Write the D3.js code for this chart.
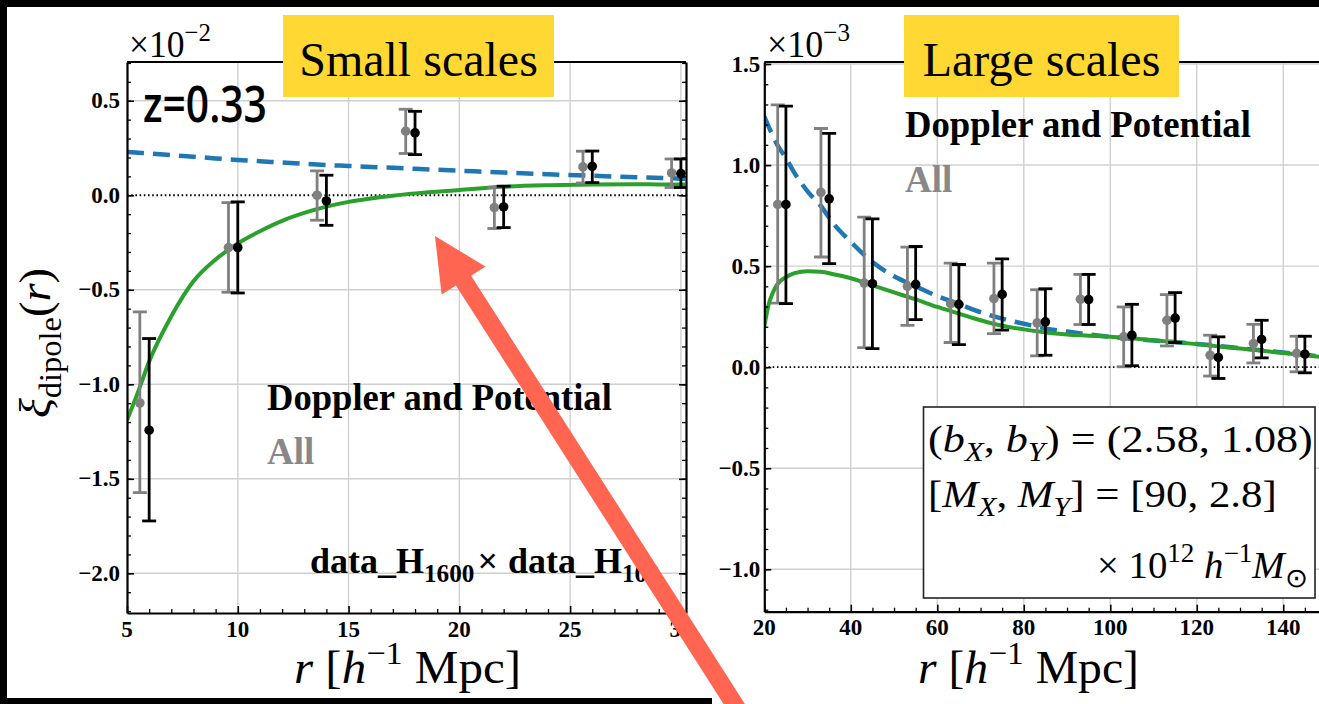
<!DOCTYPE html>
<html>
<head>
<meta charset="utf-8">
<script src="https://cdn.jsdelivr.net/npm/d3@7"></script>
<style>
  body { margin: 0; background: #fff; }
  svg { display: block; }
  text { font-family: "Liberation Serif", "Times New Roman", serif; }
</style>
</head>
<body>
<svg id="chart" width="1319" height="704"></svg>
<script>
// small scales panel, xi_dipole in units of 1e-2
const smallR = [6, 10, 14, 18, 22, 26, 30];
const smallDP = [-1.243, -0.277, -0.030, 0.330, -0.062, 0.153, 0.115];
const smallDPLo = [-1.723, -0.517, -0.159, 0.215, -0.171, 0.067, 0.041];
const smallDPHi = [-0.758, -0.035, 0.106, 0.444, 0.048, 0.234, 0.192];
const smallAll = [-1.099, -0.277, 0.000, 0.339, -0.065, 0.150, 0.118];
const smallAllLo = [-1.573, -0.513, -0.132, 0.221, -0.176, 0.065, 0.041];
const smallAllHi = [-0.617, -0.039, 0.129, 0.455, 0.041, 0.233, 0.192];
const smallModelR = [5, 5.5, 6, 7, 8, 9, 10, 11, 12, 13, 14, 15, 16, 17, 18, 20, 22, 24, 26, 28, 30, 30.2];
const smallGreen = [-1.19, -1.04, -0.88, -0.64, -0.455, -0.34, -0.255, -0.19, -0.135, -0.093, -0.06, -0.035, -0.017, -0.002, 0.01, 0.028, 0.045, 0.053, 0.057, 0.058, 0.057, 0.057];
const smallBlue = [0.229, 0.225, 0.221, 0.212, 0.204, 0.195, 0.187, 0.18, 0.173, 0.166, 0.16, 0.155, 0.15, 0.145, 0.14, 0.13, 0.12, 0.111, 0.103, 0.095, 0.088, 0.087];
const smallXTicks = [5, 10, 15, 20, 25, 30];
const smallYTicks = [-2, -1.5, -1, -0.5, 0, 0.5];

// large scales panel, xi_dipole in units of 1e-3
const largeR = [25, 35, 45, 55, 65, 75, 85, 95, 105, 115, 125, 135, 145];
const largeDP = [0.805, 0.833, 0.413, 0.410, 0.311, 0.360, 0.224, 0.334, 0.158, 0.243, 0.048, 0.137, 0.064];
const largeDPLo = [0.314, 0.512, 0.092, 0.235, 0.112, 0.183, 0.059, 0.211, 0.007, 0.122, -0.056, 0.046, -0.028];
const largeDPHi = [1.292, 1.157, 0.734, 0.597, 0.508, 0.536, 0.388, 0.459, 0.311, 0.369, 0.150, 0.232, 0.153];
const largeAll = [0.805, 0.865, 0.416, 0.400, 0.314, 0.339, 0.219, 0.336, 0.150, 0.232, 0.059, 0.117, 0.068];
const largeAllLo = [0.317, 0.545, 0.097, 0.207, 0.122, 0.166, 0.056, 0.211, 0.002, 0.105, -0.044, 0.021, -0.023];
const largeAllHi = [1.298, 1.181, 0.742, 0.594, 0.515, 0.515, 0.383, 0.459, 0.298, 0.359, 0.158, 0.212, 0.153];
const largeModelR = [20, 21, 22, 23, 25, 27, 30, 33, 36, 40, 45, 50, 55, 60, 65, 70, 75, 80, 85, 90, 95, 100, 110, 120, 130, 140, 150];
const largeGreen = [0.20, 0.31, 0.37, 0.41, 0.445, 0.465, 0.475, 0.472, 0.46, 0.44, 0.405, 0.37, 0.335, 0.298, 0.265, 0.232, 0.205, 0.187, 0.172, 0.162, 0.156, 0.15, 0.133, 0.114, 0.092, 0.07, 0.048];
const largeBlue = [1.24, 1.19, 1.145, 1.10, 1.035, 0.96, 0.87, 0.80, 0.71, 0.62, 0.52, 0.45, 0.40, 0.352, 0.312, 0.272, 0.24, 0.215, 0.192, 0.176, 0.162, 0.15, 0.132, 0.115, 0.094, 0.072, 0.05];
const largeXTicks = [20, 40, 60, 80, 100, 120, 140];
const largeYTicks = [-1, -0.5, 0, 0.5, 1, 1.5];

// arrow annotation, in small-scale panel data coords
const arrowTip = [18.9, -0.215];
const arrowTail = [33.0, -2.80];

const svg = d3.select('#chart');
const fmt1 = d3.format('.1f');

// mathtext-ish runs: sub/sup/italic
function runs(t, size, list) {
  let cur = 0;
  list.forEach(r => {
    const shift = r.sup ? -0.42 * size : r.sub ? 0.24 * size : 0;
    const ts = t.append('tspan').text(r.t).attr('dy', shift - cur);
    if (r.sup || r.sub) ts.attr('font-size', 0.7 * size);
    if (r.i) ts.attr('font-style', 'italic');
    if (r.dx) ts.attr('dx', r.dx);
    cur = shift;
  });
  return t;
}

// squeeze/stretch a text drawn at 0,0 to a target width
function fit(t, x, y, w, extra) {
  const b = t.node().getBBox();
  t.attr('transform', `translate(${x},${y})${extra || ''} scale(${w / b.width},1)`);
}

function panel(cfg) {
  const g = svg.append('g');
  const x = d3.scaleLinear().domain(cfg.xDomain).range([cfg.left, cfg.right]);
  const y = d3.scaleLinear().domain(cfg.yDomain).range([cfg.bottom, cfg.top]);

  svg.append('clipPath').attr('id', cfg.id)
    .append('rect')
    .attr('x', cfg.left).attr('y', cfg.top)
    .attr('width', cfg.right - cfg.left).attr('height', cfg.bottom - cfg.top);

  // grid
  g.append('g').selectAll('line')
    .data(cfg.xMajor.filter(d => d > cfg.xDomain[0]))
    .join('line')
    .attr('x1', d => x(d)).attr('x2', d => x(d))
    .attr('y1', cfg.top).attr('y2', cfg.bottom)
    .attr('stroke', '#d0d0d0').attr('stroke-width', 1.4);
  g.append('g').selectAll('line')
    .data(cfg.yMajor.filter(d => d !== 0))
    .join('line')
    .attr('y1', d => y(d)).attr('y2', d => y(d))
    .attr('x1', cfg.left).attr('x2', cfg.right)
    .attr('stroke', '#d0d0d0').attr('stroke-width', 1.4);

  const plot = g.append('g').attr('clip-path', `url(#${cfg.id})`);

  plot.append('line')
    .attr('x1', cfg.left).attr('x2', cfg.right)
    .attr('y1', y(0)).attr('y2', y(0))
    .attr('stroke', '#000').attr('stroke-width', 1.8)
    .attr('stroke-dasharray', '1.6,2.6');

  const line = d3.line().x(d => x(d[0])).y(d => y(d[1])).curve(d3.curveMonotoneX);
  plot.append('path')
    .attr('d', line(d3.zip(cfg.modelR, cfg.blue)))
    .attr('fill', 'none').attr('stroke', '#1f77b4').attr('stroke-width', 4.5)
    .attr('stroke-dasharray', '17,9');
  plot.append('path')
    .attr('d', line(d3.zip(cfg.modelR, cfg.green)))
    .attr('fill', 'none').attr('stroke', '#2ca02c').attr('stroke-width', 4);

  // error bars: grey "All" shifted left, black "Doppler and Potential" on top
  const series = [
    { dx: cfg.dodge, v: cfg.all, lo: cfg.allLo, hi: cfg.allHi, color: '#808080' },
    { dx: 0, v: cfg.dp, lo: cfg.dpLo, hi: cfg.dpHi, color: '#000' }
  ];
  series.forEach(s => {
    const pts = cfg.r.map((r, i) => ({ r: r + s.dx, v: s.v[i], lo: s.lo[i], hi: s.hi[i] }));
    const eg = plot.append('g').attr('stroke', s.color).attr('stroke-width', 2.8);
    eg.selectAll('line.bar').data(pts).join('line').attr('class', 'bar')
      .attr('x1', d => x(d.r)).attr('x2', d => x(d.r))
      .attr('y1', d => y(d.lo)).attr('y2', d => y(d.hi));
    eg.selectAll('line.lo').data(pts).join('line').attr('class', 'lo')
      .attr('x1', d => x(d.r) - 7).attr('x2', d => x(d.r) + 7)
      .attr('y1', d => y(d.lo)).attr('y2', d => y(d.lo));
    eg.selectAll('line.hi').data(pts).join('line').attr('class', 'hi')
      .attr('x1', d => x(d.r) - 7).attr('x2', d => x(d.r) + 7)
      .attr('y1', d => y(d.hi)).attr('y2', d => y(d.hi));
    plot.append('g').selectAll('circle').data(pts).join('circle')
      .attr('cx', d => x(d.r)).attr('cy', d => y(d.v)).attr('r', 4.8)
      .attr('fill', s.color);
  });

  // axes: inward ticks, labels drawn as own text nodes
  const spine = a => { a.select('.domain').attr('stroke-width', 2.2); a.selectAll('.tick line').attr('stroke-width', 1.6); a.selectAll('.tick text').remove(); };
  const minor = a => { a.select('.domain').remove(); a.selectAll('.tick line').attr('stroke-width', 1.3); a.selectAll('.tick text').remove(); };

  g.append('g').attr('transform', `translate(${cfg.left},0)`)
    .call(d3.axisLeft(y).tickValues(cfg.yMinor).tickSize(-4)).call(minor);
  g.append('g').attr('transform', `translate(${cfg.left},0)`)
    .call(d3.axisLeft(y).tickValues(cfg.yMajor).tickSize(-7).tickSizeOuter(0)).call(spine);
  g.append('g').attr('transform', `translate(0,${cfg.bottom})`)
    .call(d3.axisBottom(x).tickValues(cfg.xMinor).tickSize(-4)).call(minor);
  g.append('g').attr('transform', `translate(0,${cfg.bottom})`)
    .call(d3.axisBottom(x).tickValues(cfg.xMajor).tickSize(-7).tickSizeOuter(0)).call(spine);
  if (cfg.rightSpine) {
    g.append('g').attr('transform', `translate(${cfg.right},0)`)
      .call(d3.axisRight(y).tickValues(cfg.yMinor).tickSize(-4)).call(minor);
    g.append('g').attr('transform', `translate(${cfg.right},0)`)
      .call(d3.axisRight(y).tickValues(cfg.yMajor).tickSize(-7).tickSizeOuter(0)).call(spine);
  }
  g.append('line')
    .attr('x1', cfg.left).attr('x2', cfg.right)
    .attr('y1', cfg.top).attr('y2', cfg.top)
    .attr('stroke', '#000').attr('stroke-width', 2.2);

  const lab = g.append('g').attr('font-size', 23).attr('font-weight', 'bold');
  lab.selectAll('text.yl').data(cfg.yMajor).join('text').attr('class', 'yl')
    .attr('x', cfg.left - cfg.yPad).attr('y', d => y(d) + 7.5)
    .attr('text-anchor', 'end').text(fmt1);
  lab.selectAll('text.xl').data(cfg.xMajor).join('text').attr('class', 'xl')
    .attr('x', d => x(d)).attr('y', cfg.bottom + 23.5)
    .attr('text-anchor', 'middle').text(d3.format('d'));

  return { x, y };
}

const small = panel({
  id: 'clipSmall', left: 127, right: 686, top: 62, bottom: 613,
  xDomain: [5, 30.23], yDomain: [-2.21, 0.705],
  xMajor: smallXTicks, xMinor: d3.range(6, 31).filter(d => d % 5),
  yMajor: smallYTicks, yMinor: d3.range(-22, 8).map(d => d / 10),
  yPad: 7, rightSpine: true, dodge: -0.42,
  r: smallR, dp: smallDP, dpLo: smallDPLo, dpHi: smallDPHi,
  all: smallAll, allLo: smallAllLo, allHi: smallAllHi,
  modelR: smallModelR, green: smallGreen, blue: smallBlue
});

const large = panel({
  id: 'clipLarge', left: 764.3, right: 1326.5, top: 62, bottom: 611.7,
  xDomain: [20, 150], yDomain: [-1.21, 1.51],
  xMajor: largeXTicks, xMinor: d3.range(25, 150, 5).filter(d => d % 20),
  yMajor: largeYTicks, yMinor: d3.range(-12, 16).map(d => d / 10),
  yPad: 4, rightSpine: false, dodge: -1.9,
  r: largeR, dp: largeDP, dpLo: largeDPLo, dpHi: largeDPHi,
  all: largeAll, allLo: largeAllLo, allHi: largeAllHi,
  modelR: largeModelR, green: largeGreen, blue: largeBlue
});

// offset labels
fit(runs(svg.append('text').attr('font-size', 37), 37, [{ t: '×10' }, { t: '−2', sup: 1 }]), 129, 57, 82);
fit(runs(svg.append('text').attr('font-size', 37), 37, [{ t: '×10' }, { t: '−3', sup: 1 }]), 767, 57, 83);

// axis titles
const xTitle = [{ t: 'r', i: 1 }, { t: ' [' }, { t: 'h', i: 1 }, { t: '−1', sup: 1 }, { t: ' Mpc]' }];
fit(runs(svg.append('text').attr('font-size', 46), 46, xTitle), 294, 683, 227);
fit(runs(svg.append('text').attr('font-size', 46), 46, xTitle), 918, 683, 221);
fit(runs(svg.append('text').attr('font-size', 44), 44,
  [{ t: 'ξ', i: 1 }, { t: 'dipole', sub: 1 }, { t: '(' }, { t: 'r', i: 1 }, { t: ')' }]),
  50, 418, 150, ' rotate(-90)');

// panel annotations
fit(svg.append('text').style('font-family', '"Open Sans", "Noto Sans", sans-serif')
  .style('font-weight', '600').attr('font-size', 50).text('z=0.33'), 143, 122, 124);
fit(svg.append('text').attr('font-size', 37).attr('font-weight', 'bold').text('Doppler and Potential'), 267, 410, 345);
svg.append('text').attr('x', 267).attr('y', 464).attr('font-size', 37).attr('font-weight', 'bold')
  .attr('fill', '#888').text('All');
runs(svg.append('text').attr('x', 310).attr('y', 573).attr('font-size', 36).attr('font-weight', 'bold'), 36,
  [{ t: 'data_H' }, { t: '1600', sub: 1 }, { t: '×', dx: 3 }, { t: 'data_H', dx: 10 }, { t: '100', sub: 1 }]);

fit(svg.append('text').attr('font-size', 37).attr('font-weight', 'bold').text('Doppler and Potential'), 905, 137, 346);
svg.append('text').attr('x', 905).attr('y', 192).attr('font-size', 37).attr('font-weight', 'bold')
  .attr('fill', '#888').text('All');

// parameter box
svg.append('rect').attr('x', 923.5).attr('y', 407).attr('width', 391.5).attr('height', 191)
  .attr('fill', '#fff').attr('stroke', '#222').attr('stroke-width', 1.6);
fit(runs(svg.append('text').attr('font-size', 38), 38,
  [{ t: '(' }, { t: 'b', i: 1 }, { t: 'X', i: 1, sub: 1 }, { t: ', ' }, { t: 'b', i: 1 }, { t: 'Y', i: 1, sub: 1 },
   { t: ')  =  (2.58, 1.08)' }]), 928, 452, 385);
fit(runs(svg.append('text').attr('font-size', 38), 38,
  [{ t: '[' }, { t: 'M', i: 1 }, { t: 'X', i: 1, sub: 1 }, { t: ', ' }, { t: 'M', i: 1 }, { t: 'Y', i: 1, sub: 1 },
   { t: ']  =  [90, 2.8]' }]), 928, 507, 349);
fit(runs(svg.append('text').attr('font-size', 38), 38,
  [{ t: '× 10' }, { t: '12', sup: 1 }, { t: ' h', i: 1 }, { t: '−1', sup: 1 }, { t: 'M', i: 1 }, { t: '⊙', sub: 1 }]),
  1097, 578, 211);

// yellow titles
[{ t: 'Small scales', x0: 283, x1: 554 }, { t: 'Large scales', x0: 904, x1: 1179 }].forEach(b => {
  svg.append('rect').attr('x', b.x0).attr('y', 15).attr('width', b.x1 - b.x0).attr('height', 82)
    .attr('fill', '#ffd834');
  svg.append('text').attr('x', (b.x0 + b.x1) / 2).attr('y', 76).attr('text-anchor', 'middle')
    .attr('font-size', 48).text(b.t);
});

// black frame of the slide
svg.append('rect').attr('x', 0).attr('y', 0).attr('width', 1319).attr('height', 7).attr('fill', '#000');
svg.append('rect').attr('x', 0).attr('y', 0).attr('width', 7).attr('height', 704).attr('fill', '#000');
svg.append('rect').attr('x', 0).attr('y', 698).attr('width', 712).attr('height', 6).attr('fill', '#000');

// big red arrow
(function () {
  const tip = [small.x(arrowTip[0]), small.y(arrowTip[1])];
  const tail = [small.x(arrowTail[0]), small.y(arrowTail[1])];
  const len = Math.hypot(tip[0] - tail[0], tip[1] - tail[1]);
  const ux = (tip[0] - tail[0]) / len, uy = (tip[1] - tail[1]) / len;
  const nx = -uy, ny = ux;
  const headLen = 53, headHalf = 26, shaftHalf = 9;
  const base = [tip[0] - ux * headLen, tip[1] - uy * headLen];
  const p = (c, k) => [c[0] + nx * k, c[1] + ny * k];
  svg.append('path')
    .attr('d', d3.line()([p(tail, shaftHalf), p(base, shaftHalf), p(base, headHalf), tip,
      p(base, -headHalf), p(base, -shaftHalf), p(tail, -shaftHalf)]) + 'Z')
    .attr('fill', '#ff6550');
})();
</script>
</body>
</html>
